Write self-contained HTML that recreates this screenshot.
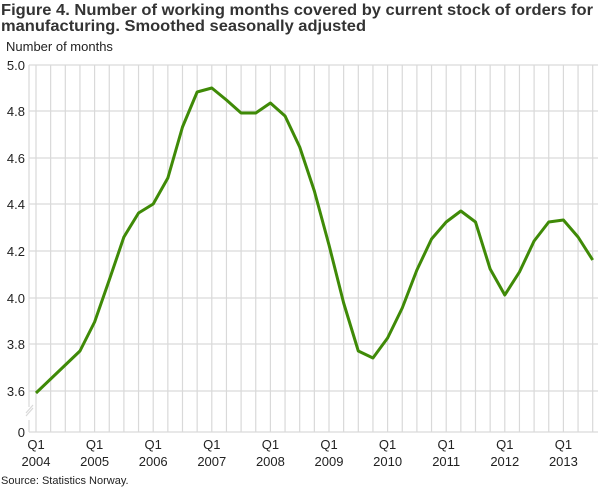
<!DOCTYPE html>
<html><head><meta charset="utf-8"><style>
html,body{margin:0;padding:0;background:#fff;}
svg{display:block;font-family:"Liberation Sans",sans-serif;}
</style></head><body>
<svg width="610" height="488" viewBox="0 0 610 488" xmlns="http://www.w3.org/2000/svg">
<text x="1" y="15" font-size="16" font-weight="bold" fill="#333" textLength="592" lengthAdjust="spacingAndGlyphs">Figure 4. Number of working months covered by current stock of orders for</text>
<text x="1" y="31" font-size="16" font-weight="bold" fill="#333" textLength="365" lengthAdjust="spacingAndGlyphs">manufacturing. Smoothed seasonally adjusted</text>
<text x="6" y="51" font-size="13" fill="#222">Number of months</text>
<path stroke="#d9d9d9" stroke-width="1.2" fill="none" d="M36 65V432M50.65 65V432M65.3 65V432M79.95 65V432M94.6 65V432M109.25 65V432M123.9 65V432M138.55 65V432M153.2 65V432M167.85 65V432M182.5 65V432M197.15 65V432M211.8 65V432M226.45 65V432M241.1 65V432M255.75 65V432M270.4 65V432M285.05 65V432M299.7 65V432M314.35 65V432M329 65V432M343.65 65V432M358.3 65V432M372.95 65V432M387.6 65V432M402.25 65V432M416.9 65V432M431.55 65V432M446.2 65V432M460.85 65V432M475.5 65V432M490.15 65V432M504.8 65V432M519.45 65V432M534.1 65V432M548.75 65V432M563.4 65V432M578.05 65V432M592.7 65V432"/>
<g stroke="#d9d9d9" stroke-width="1.2">
<line x1="29" x2="598" y1="65" y2="65"/>
<line x1="29" x2="598" y1="111" y2="111"/>
<line x1="29" x2="598" y1="158" y2="158"/>
<line x1="29" x2="598" y1="204" y2="204"/>
<line x1="29" x2="598" y1="251" y2="251"/>
<line x1="29" x2="598" y1="298" y2="298"/>
<line x1="29" x2="598" y1="344" y2="344"/>
<line x1="29" x2="598" y1="391" y2="391"/>
<line x1="29" x2="598" y1="432" y2="432"/>
<line x1="29" x2="29" y1="65" y2="407"/>
<line x1="29" x2="29" y1="420" y2="432"/>
<line x1="26" x2="33" y1="413" y2="405"/>
<line x1="26" x2="33" y1="416" y2="408"/>
</g>
<g font-size="13" fill="#222" text-anchor="end">
<text x="25" y="70">5.0</text>
<text x="25" y="116">4.8</text>
<text x="25" y="163">4.6</text>
<text x="25" y="209">4.4</text>
<text x="25" y="256">4.2</text>
<text x="25" y="303">4.0</text>
<text x="25" y="349">3.8</text>
<text x="25" y="396">3.6</text>
<text x="25" y="437">0</text>
</g>
<g font-size="13" fill="#222" text-anchor="middle">
<text x="36" y="449">Q1</text><text x="36" y="466">2004</text>
<text x="94.6" y="449">Q1</text><text x="94.6" y="466">2005</text>
<text x="153.2" y="449">Q1</text><text x="153.2" y="466">2006</text>
<text x="211.8" y="449">Q1</text><text x="211.8" y="466">2007</text>
<text x="270.4" y="449">Q1</text><text x="270.4" y="466">2008</text>
<text x="329" y="449">Q1</text><text x="329" y="466">2009</text>
<text x="387.6" y="449">Q1</text><text x="387.6" y="466">2010</text>
<text x="446.2" y="449">Q1</text><text x="446.2" y="466">2011</text>
<text x="504.8" y="449">Q1</text><text x="504.8" y="466">2012</text>
<text x="563.4" y="449">Q1</text><text x="563.4" y="466">2013</text>
</g>
<polyline fill="none" stroke="#3f8a07" stroke-width="3" stroke-linejoin="round" points="36,393 50.65,379 65.3,365 79.95,351 94.6,322 109.25,280 123.9,237 138.55,213 153.2,204 167.85,178 182.5,127 197.15,92 211.8,88 226.45,100 241.1,113 255.75,113 270.4,103 285.05,116 299.7,147 314.35,191 329,245 343.65,303 358.3,351 372.95,358 387.6,338 402.25,308 416.9,270 431.55,239 446.2,222 460.85,211 475.5,222 490.15,269 504.8,295 519.45,272 534.1,241 548.75,222 563.4,220 578.05,237 592.7,260"/>
<text x="1" y="484" font-size="11" fill="#222">Source: Statistics Norway.</text>
</svg>
</body></html>
